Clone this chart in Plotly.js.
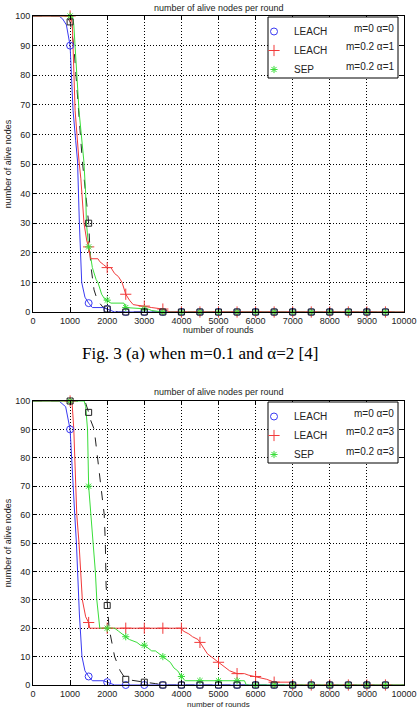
<!DOCTYPE html>
<html><head><meta charset="utf-8">
<script src="https://cdn.plot.ly/plotly-3.0.1.min.js"></script>
<style>html,body{margin:0;padding:0;background:#fff}#chart{width:419px;height:711px}</style>
</head><body><div id="chart"></div>
<script>
// ---------- data ----------
const markRounds = [1000,1500,2000,2500,3000,3500,4000,4500,5000,5500,6000,6500,7000,7500,8000,8500,9000,9500];

// Top chart: LEACH m=0 a=0, LEACH m=0.2 a=1, SEP m=0.2 a=1, dashed reference
const topBlueX  = [0,700,800,900,1000,1080,1150,1200,1250,1280,1313,1400,1500,1600,1900,2000,2200,10000];
const topBlueY  = [100,100,99,97,90,68,58,51,30,18,10,5,3,1.5,1.5,1,0,0];
const topRedX   = [0,1020,1060,1135,1240,1290,1375,1450,1500,1550,1750,1800,1900,2000,2100,2200,2300,2400,2500,2600,2700,2900,3000,3200,3500,3700,10000];
const topRedY   = [100,100,97,68,51,45,30,24,22,18,18,17,16,15,15,13,12,10,6,4,2.5,2,2,1.5,1,0,0];
const topGreenX = [0,1065,1100,1240,1370,1420,1440,1500,1550,1600,1700,1750,1850,1950,2000,2100,2450,2500,3100,3200,3500,10000];
const topGreenY = [100,100,97,68,51,40,30,22,19,15,11,10,6,4,4,3,3,1.5,1,0.5,0,0];
const topBlackX = [0,800,950,1000,1100,1225,1330,1420,1500,1555,1645,1735,1880,2000,2150,2300,10000];
const topBlackY = [100,100,99,98,90,68,51,40,30,16,7.5,4,1.7,1,0.5,0,0];
const topBlueM  = [90,3,1,0,0,0,0,0,0,0,0,0,0,0,0,0,0,0];
const topRedM   = [100,22,15,6,2,1,0,0,0,0,0,0,0,0,0,0,0,0];
const topGreenM = [100,22,4,1.5,1,0,0,0,0,0,0,0,0,0,0,0,0,0];
const topBlackM = [98,30,1,0,0,0,0,0,0,0,0,0,0,0,0,0,0,0];

// Bottom chart: LEACH m=0 a=0, LEACH m=0.2 a=3, SEP m=0.2 a=3, dashed reference
const botBlueX  = [0,700,880,970,1000,1125,1170,1250,1320,1400,1500,1600,1900,2000,2200,10000];
const botBlueY  = [100,100,98,92,90,60,50,25,10,5,3,1.5,1.5,1,0,0];
const botRedX   = [0,1050,1100,1180,1240,1330,1420,1500,1530,4000,4050,4200,4300,4450,4500,4600,4700,4800,4900,5000,5100,5200,5300,5500,5700,5800,6000,6100,6300,6500,6600,7000,7050,10000];
const botRedY   = [100,100,90,60,50,30,24,22,20,20,19,18,17,16,15,13,11,10,9,8,7,6,5,4,4,3.5,3,2.5,2,1,1,1,0,0];
const botGreenX = [0,1380,1420,1470,1500,1560,1640,1680,1720,1800,2000,2200,2300,2400,2500,2600,2800,2900,3000,3100,3200,3300,3500,3600,3700,3800,3900,4000,4100,5700,5750,10000];
const botGreenY = [100,100,98,90,70,60,50,40,30,20,20,20,19,18,17,16,15,14,14,13,12,12,10,9,8,6,5,3,1.5,1.5,0,0];
const botBlackX = [0,1000,1400,1500,1560,1650,1730,1830,1920,1950,1970,2000,2050,2200,2350,2500,2700,3000,3300,3500,10000];
const botBlackY = [100,100,100,96,93,90,80,70,60,50,35,28,20,10,5,2,1.5,1,0.5,0,0];
const botBlueM  = [90,3,1,0,0,0,0,0,0,0,0,0,0,0,0,0,0,0];
const botRedM   = [100,22,20,20,20,20,20,15,8,4,3,1,0,0,0,0,0,0];
const botGreenM = [100,70,20,17,14,10,3,1.5,1.5,1.5,0,0,0,0,0,0,0,0];
const botBlackM = [100,96,28,2,1,0,0,0,0,0,0,0,0,0,0,0,0,0];

const seriesNames = ['LEACH','LEACH','SEP'];
const topParams = ['m=0 \u03b1=0','m=0.2 \u03b1=1','m=0.2 \u03b1=1'];
const botParams = ['m=0 \u03b1=0','m=0.2 \u03b1=3','m=0.2 \u03b1=3'];
const chartTitle = 'number of alive nodes per round';
const xTitle = 'number of rounds';
const yTitle = 'number of alive nodes';
const caption = 'Fig. 3 (a) when m=0.1 and \u03b1=2 [4]';

// ---------- styling ----------
const C = {blue:'#3a3af2', red:'#f23a3a', green:'#3ade3a', black:'#222222'};
const SANS = 'Liberation Sans, Arial, sans-serif';
const GRID_DASH = '1px,2px';

function line(x,y,color,xa,ya,dash){
  return {x:x,y:y,type:'scatter',mode:'lines',line:{color:color,width:1,dash:dash||'solid'},
    xaxis:xa,yaxis:ya,showlegend:false,hoverinfo:'skip',cliponaxis:true};
}
function marks(y,color,symbol,size,xa,ya,name,legend,show){
  return {x:markRounds,y:y,type:'scatter',mode:'markers',name:name,legend:legend,showlegend:show,
    marker:{symbol:symbol,size:size,color:color,line:{color:color,width:1}},
    xaxis:xa,yaxis:ya,cliponaxis:false};
}

const traces = [
  // top
  line(topBlackX,topBlackY,C.black,'x','y','dash'),
  line(topBlueX,topBlueY,C.blue,'x','y'),
  line(topGreenX,topGreenY,C.green,'x','y'),
  line(topRedX,topRedY,C.red,'x','y'),
  marks(topBlueM,C.blue,'circle-open',7,'x','y',seriesNames[0],'legend',true),
  marks(topRedM,C.red,'cross-thin-open',8,'x','y',seriesNames[1],'legend',true),
  marks(topGreenM,C.green,'asterisk-open',6,'x','y',seriesNames[2],'legend',true),
  marks(topBlackM,C.black,'square-open',6,'x','y','ref','legend',false),
  // bottom
  line(botBlackX,botBlackY,C.black,'x2','y2','dash'),
  line(botBlueX,botBlueY,C.blue,'x2','y2'),
  line(botRedX,botRedY,C.red,'x2','y2'),
  line(botGreenX,botGreenY,C.green,'x2','y2'),
  marks(botBlueM,C.blue,'circle-open',7,'x2','y2',seriesNames[0],'legend2',true),
  marks(botRedM,C.red,'cross-thin-open',8,'x2','y2',seriesNames[1],'legend2',true),
  marks(botGreenM,C.green,'asterisk-open',6,'x2','y2',seriesNames[2],'legend2',true),
  marks(botBlackM,C.black,'square-open',6,'x2','y2','ref','legend2',false)
];

const H = 711, T = 16, B = 26, L = 33, R = 15;
const PH = H - T - B, PW = 419 - L - R;
const py = p => 1 - (p - T) / PH;   // pixel -> paper y
const px = p => (p - L) / PW;       // pixel -> paper x

function xaxisDef(anchor){
  return {anchor:anchor,domain:[0,1],range:[0,10000],dtick:1000,tick0:0,tickformat:'d',exponentformat:'none',
    ticks:'inside',ticklen:4,tickcolor:'#000',showline:true,linecolor:'#000',linewidth:1,mirror:'ticks',
    showgrid:true,gridcolor:'#000',griddash:GRID_DASH,gridwidth:1,zeroline:false,
    tickfont:{family:SANS,size:9,color:'#222'},automargin:false};
}
function yaxisDef(anchor,domain){
  return {anchor:anchor,domain:domain,range:[0,100],dtick:10,tick0:0,
    ticks:'inside',ticklen:4,tickcolor:'#000',showline:true,linecolor:'#000',linewidth:1,mirror:'ticks',
    showgrid:true,gridcolor:'#000',griddash:GRID_DASH,gridwidth:1,zeroline:false,
    tickfont:{family:SANS,size:9,color:'#222'},
    title:{text:yTitle,font:{family:SANS,size:9,color:'#222'},standoff:2},automargin:false};
}

const topLegTop = 17, botLegTop = 402;
function legendDef(top){
  return {x:px(254),y:py(top),xanchor:'left',yanchor:'top',bgcolor:'rgba(0,0,0,0)',borderwidth:0,
    font:{family:SANS,size:10,color:'#222'},itemwidth:30,tracegroupgap:0};
}
function legendBox(top,bottom){
  return {type:'rect',xref:'paper',yref:'paper',x0:px(268),x1:px(398),y0:py(top),y1:py(bottom),
    line:{color:'#000',width:1},fillcolor:'#fff',layer:'above'};
}

const annotations = [];
function addParams(params,rows){
  params.forEach((t,i)=>annotations.push({xref:'paper',yref:'paper',x:px(396),y:py(rows[i]),
    xanchor:'right',yanchor:'middle',text:t,showarrow:false,font:{family:SANS,size:10,color:'#222'}}));
}
addParams(topParams,[topLegTop+11,topLegTop+30,topLegTop+49]);
addParams(botParams,[botLegTop+11,botLegTop+30,botLegTop+49]);
function addText(t,x,y,size,anchorY){
  annotations.push({xref:'paper',yref:'paper',x:x,y:y,text:t,showarrow:false,xanchor:'center',
    yanchor:anchorY||'middle',font:{family:SANS,size:size,color:'#222'}});
}
addText(chartTitle,0.5,py(8),9);
addText(chartTitle,0.5,py(392),9);
addText(xTitle,0.5,py(330),9);
addText(xTitle,0.5,py(711),8,'bottom');
annotations.push({xref:'paper',yref:'paper',x:px(200),y:py(353),text:caption,showarrow:false,
  xanchor:'center',yanchor:'middle',font:{family:'Liberation Serif, Times New Roman, serif',size:17,color:'#000'}});

const layout = {
  width:419,height:711,margin:{l:L,r:R,t:T,b:B},
  paper_bgcolor:'#fff',plot_bgcolor:'#fff',
  xaxis:xaxisDef('y'),yaxis:yaxisDef('x',[py(312),1]),
  xaxis2:xaxisDef('y2'),yaxis2:yaxisDef('x2',[0,py(401)]),
  legend:legendDef(topLegTop),legend2:legendDef(botLegTop),
  shapes:[legendBox(topLegTop,topLegTop+61),legendBox(botLegTop,botLegTop+61)],
  annotations:annotations
};

Plotly.newPlot('chart',traces,layout,{staticPlot:true,displayModeBar:false});
</script>
</body></html>
